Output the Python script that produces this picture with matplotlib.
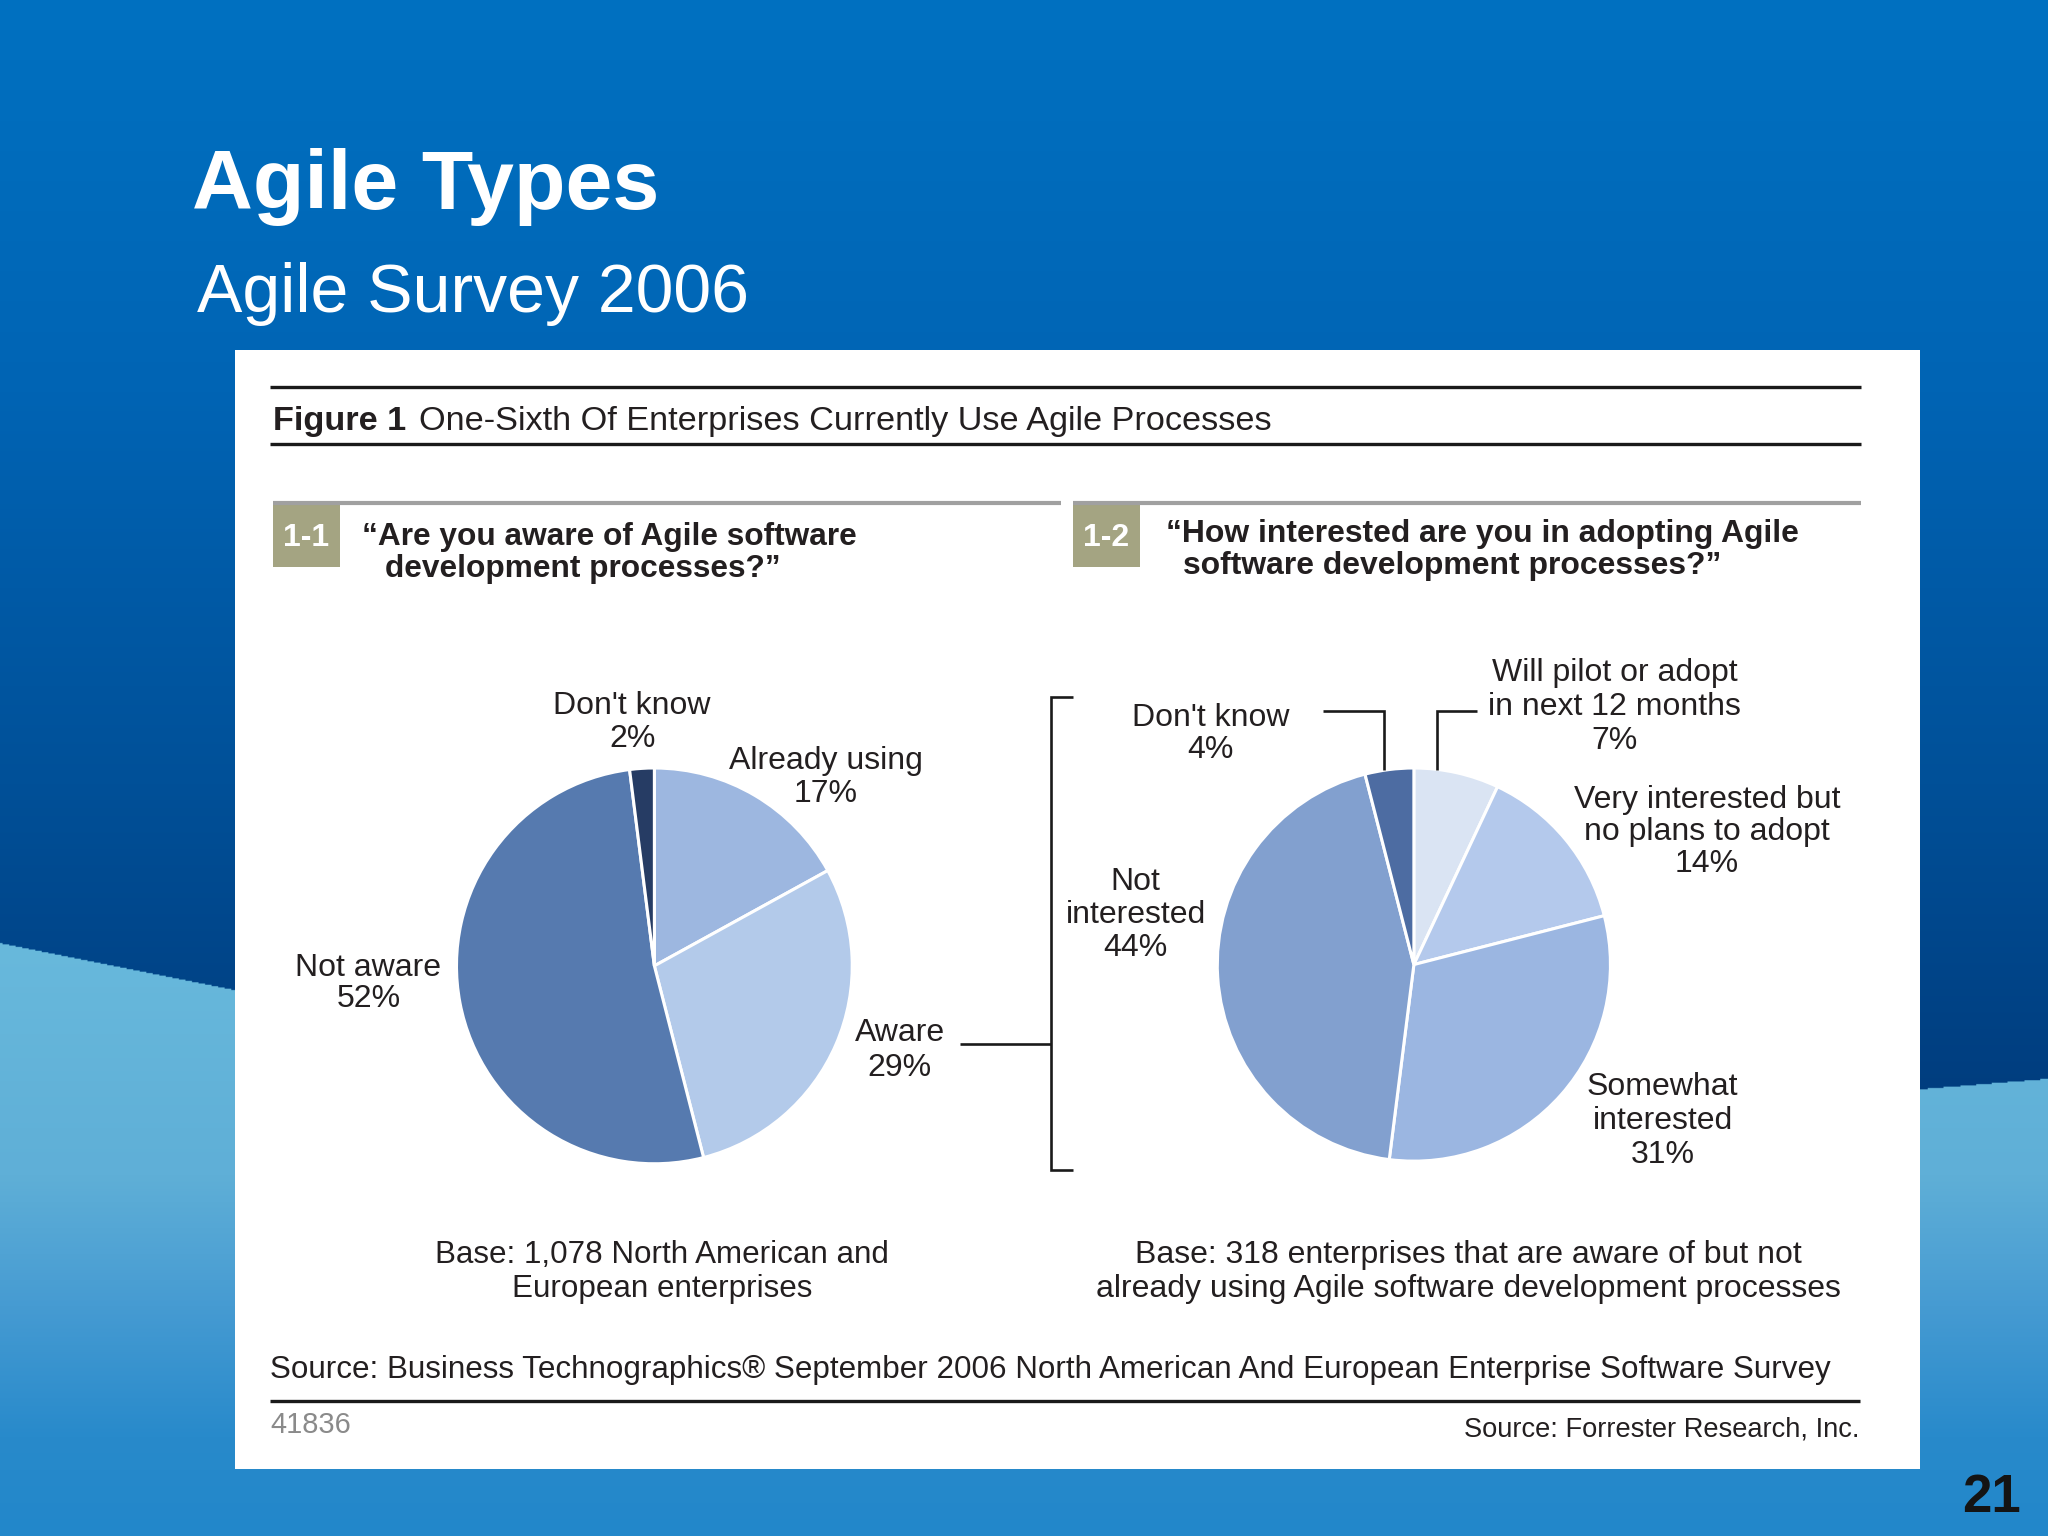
import numpy as np
import matplotlib
matplotlib.use("Agg")
import matplotlib.pyplot as plt
from matplotlib.patches import Rectangle

# ---------------- data ----------------
aware_labels = ["Already using", "Aware", "Not aware", "Don't know"]
aware_values = [17, 29, 52, 2]
aware_colors = ["#9db7e0", "#b3caea", "#567aaf", "#263c64"]

interest_labels = ["Will pilot or adopt\nin next 12 months",
                   "Very interested but\nno plans to adopt",
                   "Somewhat\ninterested",
                   "Not\ninterested",
                   "Don't know"]
interest_values = [7, 14, 31, 44, 4]
interest_colors = ["#dae4f3", "#b4c9ec", "#9bb6e1", "#82a0cf", "#4d6ca2"]

slide_title = "Agile Types"
slide_subtitle = "Agile Survey 2006"
fig_title_bold = "Figure 1"
fig_title = "One-Sixth Of Enterprises Currently Use Agile Processes"
q1 = ["\u201cAre you aware of Agile software", "development processes?\u201d"]
q2 = ["\u201cHow interested are you in adopting Agile", "software development processes?\u201d"]
base1 = ["Base: 1,078 North American and", "European enterprises"]
base2 = ["Base: 318 enterprises that are aware of but not",
         "already using Agile software development processes"]
source_text = ("Source: Business Technographics\u00ae September 2006 North American "
               "And European Enterprise Software Survey")
doc_id = "41836"
credit = "Source: Forrester Research, Inc."
page_no = "21"

# ---------------- layout (reference pixel grid) ----------------
W, H = 1568.0, 1176.0
S = 2048.0 / W
TXT = "#231f20"
PF = ["Liberation Sans", "DejaVu Sans"]

fig = plt.figure(figsize=(20.48, 15.36), dpi=100)

# background
yy = np.arange(int(H))[:, None] + 0.5
xx = np.arange(int(W))[None, :] + 0.5
def grad(stops_y, stops_c, y):
    c = np.array(stops_c, float) / 255.0
    return np.stack([np.interp(y, stops_y, c[:, k]) for k in range(3)], axis=-1)
top = grad([0, 300, 600, 850], [(0, 113, 193), (0, 100, 180), (0, 80, 152), (0, 60, 125)],
           np.broadcast_to(yy, (int(H), int(W))))
low = grad([720, 900, 1000, 1100, 1176], [(104, 185, 220), (95, 175, 215), (70, 155, 210),
                                          (40, 138, 203), (34, 135, 202)],
           np.broadcast_to(yy, (int(H), int(W))))
wave_y = np.interp(xx, [0, 180, 800, 1470, 1568], [722, 758, 860, 834, 826])
mask = (yy > wave_y)[..., None]
img = np.where(mask, low, top)

bg = fig.add_axes([0, 0, 1, 1])
bg.imshow(img, extent=(0, W, H, 0), aspect="auto", interpolation="bilinear")
bg.set_xlim(0, W); bg.set_ylim(H, 0); bg.axis("off")
bg.add_patch(Rectangle((180, 268), 1290, 857, facecolor="white", edgecolor="none"))

# pies
def pie_axes(cx, cy, r, values, colors):
    m = 1.04
    pax = fig.add_axes([(cx - r * m) / W, 1 - (cy + r * m) / H, 2 * r * m / W, 2 * r * m / H])
    pax.pie(values, colors=colors, startangle=90, counterclock=False, radius=1,
            wedgeprops=dict(edgecolor="white", linewidth=2.2), frame=True)
    pax.set_xlim(-m, m); pax.set_ylim(-m, m)
    pax.set_aspect("equal", adjustable="datalim")
    pax.axis("off")
    return pax

pie_axes(501, 739.5, 151.5, aware_values, aware_colors)
pie_axes(1082.5, 738.5, 150.5, interest_values, interest_colors)

# overlay
ov = fig.add_axes([0, 0, 1, 1])
ov.set_xlim(0, W); ov.set_ylim(H, 0); ov.axis("off")
renderer = fig.canvas.get_renderer()

def txt(x, y, s, size, weight="normal", ha="left", color=TXT, family=PF, width=None):
    t = ov.text(x, y, s, fontsize=size, fontweight=weight, ha=ha, va="baseline",
                color=color, family=family)
    if width is not None:
        w = t.get_window_extent(renderer=renderer).width / S
        t.set_fontsize(size * width / w)
    return t

def lines(x, y0, step, s, size, ha="center", weight="normal"):
    for i, ln in enumerate(s.split("\n")):
        txt(x, y0 + i * step, ln, size, weight=weight, ha=ha)

# slide titles
txt(147, 160, slide_title, 60, weight="bold", color="white", width=358)
txt(151, 238.5, slide_subtitle, 49, color="white", width=422)
txt(1547, 1158, page_no, 38, weight="bold", ha="right", color="#141414")

# figure header
ov.plot([207, 1425], [296, 296], color="#1a1a1a", lw=2.4, solid_capstyle="butt")
ov.plot([207, 1425], [340, 340], color="#1a1a1a", lw=2.4, solid_capstyle="butt")
t = txt(321, 329, fig_title, 24, width=654)
txt(209, 329, fig_title_bold, t.get_fontsize(), weight="bold")

# sub headers
for x0, x1 in [(209, 812.6), (821.6, 1425)]:
    ov.plot([x0, x1], [385, 385], color="#a0a0a0", lw=3, solid_capstyle="butt")
for bx, lab in [(209, "1-1"), (821.6, "1-2")]:
    ov.add_patch(Rectangle((bx, 385), 51, 49, facecolor="#a4a482", edgecolor="none"))
    txt(bx + 25.5, 418, lab, 23, weight="bold", ha="center", color="white")

t = txt(277, 417, q1[0], 22, weight="bold", width=379)
txt(295, 442, q1[1], t.get_fontsize(), weight="bold")
t = txt(893, 414.7, q2[0], 22, weight="bold", width=485)
txt(905.6, 439.5, q2[1], t.get_fontsize(), weight="bold")

# pie labels
LS = 23
left_pos = {"Already using": (632, 589, 25), "Aware": (689, 797, 27),
            "Not aware": (282, 747, 24), "Don't know": (484, 547, 25)}
for lab, v in zip(aware_labels, aware_values):
    x, y, st = left_pos[lab]
    lines(x, y, st, f"{lab}\n{v}%", LS)

right_pos = [(1236, 521.6, 26), (1307, 618.6, 24.5), (1273, 838.5, 26),
             (869.5, 681.5, 25.3), (927, 555.7, 24.5)]
for lab, v, (x, y, st) in zip(interest_labels, interest_values, right_pos):
    lines(x, y, st, f"{lab}\n{v}%", LS)

# connectors
lk = dict(color="#1a1a1a", lw=1.9, solid_capstyle="butt", solid_joinstyle="miter")
ov.plot([735, 804.5], [799, 799], **lk)
ov.plot([821.7, 804.5, 804.5, 821.7], [533.8, 533.8, 896, 896], **lk)
ov.plot([1012.8, 1059.5, 1059.5], [544.7, 544.7, 589.6], **lk)
ov.plot([1131, 1100, 1100], [544, 544, 589.6], **lk)

# base notes
t = txt(507, 967, base1[0], 21, ha="center", width=347)
txt(507, 993, base1[1], t.get_fontsize(), ha="center")
t = txt(1124, 993, base2[1], 21, ha="center", width=572)
txt(1124, 967, base2[0], t.get_fontsize(), ha="center")

# footer
txt(207, 1055, source_text, 21, width=1194)
ov.plot([207, 1424], [1073, 1073], color="#1a1a1a", lw=2.4, solid_capstyle="butt")
txt(207, 1097, doc_id, 18, color="#8a8a8a", width=62)
txt(1424, 1100, credit, 19, ha="right", width=303)

fig.savefig("out.png", dpi=100)
